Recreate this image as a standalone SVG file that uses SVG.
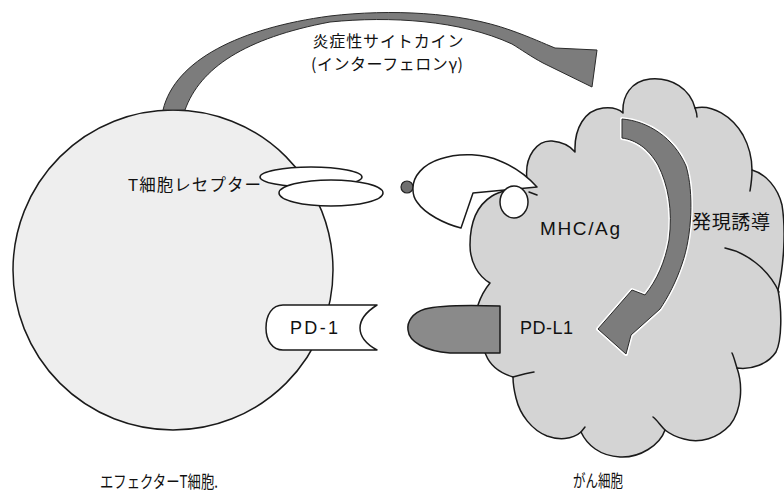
<svg xmlns="http://www.w3.org/2000/svg" width="784" height="493" viewBox="0 0 784 493">
  <style>
    .line { stroke: #1a1a1a; stroke-width: 1.5; fill: none; stroke-linejoin: round; stroke-linecap: round; }
    .shape { stroke: #1a1a1a; stroke-width: 1.5; stroke-linejoin: round; }
    .jp { font-family: 'Noto Sans CJK JP', 'Noto Sans', sans-serif; fill: #111; }
    .lat { font-family: 'Liberation Sans', Arial, sans-serif; fill: #111; }
    .mix { font-family: 'Liberation Sans', 'Noto Sans CJK JP', sans-serif; fill: #111; }
    .band { fill: #7c7c7c; stroke: #2a2a2a; stroke-width: 1; stroke-linejoin: round; }
  </style>
  <rect width="784" height="493" fill="#ffffff"/>

  <!-- effector T cell -->
  <g id="t-cell">
    <circle cx="173" cy="270" r="160" fill="#eeeeee" class="shape"/>
    <text class="jp" x="100" y="488" font-size="17.5" textLength="118" lengthAdjust="spacingAndGlyphs">エフェクターT細胞.</text>
  </g>

  <!-- cancer cell -->
  <g id="cancer-cell">
    <path class="shape" fill="#d4d4d4" d="M490,283 C478,276 470,262 470,245 C470,225 476,206 492,196 C503,189 520,190 527,180 C524,155 538,140 552,141 C563,142 571,147 575,152 C574,128 585,110 603,108 C612,107 619,109 623,113 C622,96 631,81 650,79 C672,77 690,89 695,108 C712,104 732,116 743,135 C750,148 752,160 752,170 C766,174 778,188 782,205 C786,230 784,265 778,290 C782,310 782,340 776,352 C768,364 752,370 737,368 C743,385 742,410 730,425 C718,438 700,444 684,439 C676,437 670,434 665,430 C660,445 640,458 620,457 C600,456 587,445 581,432 C572,440 558,440 547,436 C532,430 520,415 516,398 C514,390 513,383 513,377 C500,373 490,365 486,355 C478,338 474,318 478,305 C481,296 485,289 490,283 Z"/>
    <!-- lobe seams -->
    <path class="line" d="M695,108 C696,111 697,113 697,117"/>
    <path class="line" d="M752,170 C752,178 751,185 750,191"/>
    <path class="line" d="M725,248 C745,252 768,268 779,292"/>
    <path class="line" d="M737,368 C735,362 734,357 732,353"/>
    <path class="line" d="M665,430 C660,425 657,420 653,417"/>
    <path class="line" d="M581,432 L585,427"/>
    <path class="line" d="M513,377 C520,375 527,373 534,372"/>
    <text class="jp" x="573" y="487" font-size="17" textLength="50" lengthAdjust="spacingAndGlyphs">がん細胞</text>
  </g>

  <!-- connectors -->
  <g id="connectors">
    <!-- inflammatory cytokine: T cell to cancer cell -->
    <path class="band" d="M163,110 C175,60 240,28 330,16 C390,9 460,12 510,30 C530,37 545,44 555,48 L597,50 L592,87 L543,63 C530,56 522,50 512,44 C460,20 390,16 330,22 C245,38 200,68 185,110 Z"/>
    <!-- induced expression: MHC to PD-L1 -->
    <path d="M622,119 C648,121 674,138 686,166 C694,192 692,236 682,264 C676,282 668,297 660,309 L631,335 L626,354 L598,329 L632,290 L645,295 C657,280 665,262 669,240 C673,210 668,185 658,165 C648,148 636,140 622,138 Z" fill="none" stroke="#ffffff" stroke-width="4" stroke-linejoin="round"/>
    <path class="band" fill="#717171" d="M622,119 C648,121 674,138 686,166 C694,192 692,236 682,264 C676,282 668,297 660,309 L631,335 L626,354 L598,329 L632,290 L645,295 C657,280 665,262 669,240 C673,210 668,185 658,165 C648,148 636,140 622,138 Z"/>
  </g>

  <!-- labels of the connectors -->
  <g id="cytokine-label">
    <text class="jp" x="388" y="47" font-size="16" text-anchor="middle" textLength="151">炎症性サイトカイン</text>
    <text class="jp" x="387" y="70" font-size="16" text-anchor="middle" textLength="152">(インターフェロンγ)</text>
  </g>
  <g id="induction-label">
    <text class="jp" x="692" y="229" font-size="19" textLength="78">発現誘導</text>
  </g>

  <!-- T cell receptor -->
  <g id="tcr">
    <ellipse cx="311" cy="177" rx="51" ry="10" fill="#ffffff" class="shape"/>
    <ellipse cx="331" cy="193" rx="52" ry="13" fill="#ffffff" class="shape"/>
    <text class="mix" x="128" y="191" font-size="16.5" textLength="133">T細胞レセプター</text>
  </g>

  <!-- antigen peptide -->
  <g id="antigen-dot">
    <circle cx="407" cy="187" r="6" fill="#6f6f6f" stroke="#222" stroke-width="1.2"/>
  </g>

  <!-- MHC with antigen -->
  <g id="mhc">
    <path class="shape" fill="#ffffff" d="M413,190 C412,176 424,164 440,159 C460,152 485,154 500,161 C515,167 528,177 537,187 L473,193 L461,228 C445,224 425,214 417,202 C414,198 413,194 413,190 Z"/>
    <path class="line" d="M529,192 L537,195"/>
    <ellipse cx="514" cy="202" rx="14" ry="16" fill="#ffffff" class="shape"/>
    <text class="lat" x="540" y="235" font-size="19" textLength="80">MHC/Ag</text>
  </g>

  <!-- PD-1 -->
  <g id="pd-1">
    <path class="shape" fill="#ffffff" d="M283,305 L377,305 C366,312 360,320 360,328 C360,336 366,344 377,350 L283,350 C272,350 266,340 266,328 C266,315 272,305 283,305 Z"/>
    <text class="lat" x="290" y="334" font-size="18" textLength="48">PD-1</text>
  </g>

  <!-- PD-L1 -->
  <g id="pd-l1">
    <path class="shape" fill="#8a8a8a" d="M500,306 C470,305 440,305 425,309 C412,313 407,322 408,330 C409,342 425,351 450,353 L500,353 Z"/>
    <text class="lat" x="520" y="334" font-size="18" textLength="53">PD-L1</text>
  </g>
</svg>
